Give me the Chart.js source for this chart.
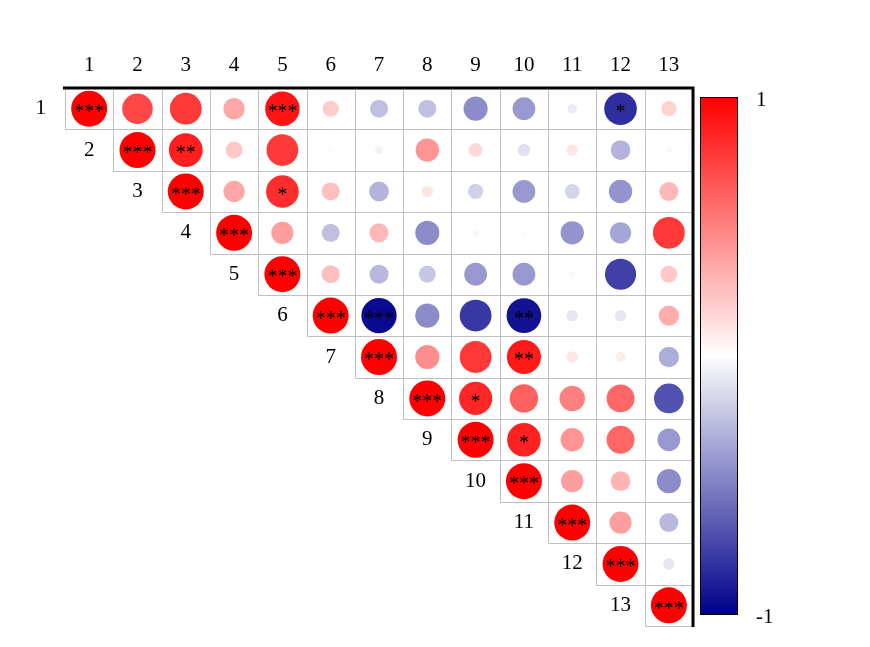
<!DOCTYPE html>
<html>
<head>
<meta charset="utf-8">
<script src="https://cdn.jsdelivr.net/npm/chart.js@4"></script>
<style>
  html, body { margin: 0; padding: 0; background: #fff; }
  #wrap { width: 870px; height: 647px; position: relative; }
</style>
</head>
<body>
<div id="wrap"><canvas id="corr"></canvas></div>
<script>
const vars = ["1","2","3","4","5","6","7","8","9","10","11","12","13"];

// upper triangle, row i holds columns i..13
const corr = [
  [1, 0.72, 0.78, 0.35, 0.92, 0.20, -0.25, -0.25, -0.45, -0.40, -0.07, -0.82, 0.18],
  [1, 0.88, 0.22, 0.78, 0.02, -0.05, 0.42, 0.15, -0.12, 0.10, -0.30, 0.03],
  [1, 0.35, 0.82, 0.25, -0.30, 0.10, -0.18, -0.40, -0.17, -0.42, 0.28],
  [1, 0.38, -0.25, 0.28, -0.45, -0.03, 0.02, -0.42, -0.35, 0.78],
  [1, 0.25, -0.28, -0.22, -0.40, -0.40, 0.03, -0.75, 0.22],
  [1, -0.96, -0.45, -0.78, -0.93, -0.10, -0.10, 0.32],
  [1, 0.45, 0.78, 0.90, 0.10, 0.08, -0.32],
  [1, 0.85, 0.62, 0.50, 0.60, -0.68],
  [1, 0.87, 0.42, 0.60, -0.40],
  [1, 0.38, 0.30, -0.45],
  [1, 0.38, -0.28],
  [1, -0.10],
  [1]
];

const sig = [
  ["***","","","","***","","","","","","","*",""],
  ["***","**","","","","","","","","","",""],
  ["***","","*","","","","","","","",""],
  ["***","","","","","","","","",""],
  ["***","","","","","","","",""],
  ["***","***","","","**","","",""],
  ["***","","","**","","",""],
  ["***","*","","","",""],
  ["***","*","","",""],
  ["***","","",""],
  ["***","",""],
  ["***",""],
  ["***"]
];

const points = [];
corr.forEach((row, i) => {
  row.forEach((v, k) => {
    points.push({ x: i + k + 1, y: i + 1, v: v, s: sig[i][k] });
  });
});

function corrColor(v) {
  // darkblue -> white -> red
  let r, g, b;
  if (v >= 0) {
    r = 255; g = Math.round(255 * (1 - v)); b = Math.round(255 * (1 - v));
  } else {
    const t = -v;
    r = Math.round(255 * (1 - t)); g = Math.round(255 * (1 - t)); b = Math.round(255 - (255 - 139) * t);
  }
  return `rgb(${r},${g},${b})`;
}

const serif = "'Liberation Serif', 'DejaVu Serif', serif";

const decor = {
  id: "decor",
  beforeDatasetsDraw(chart) {
    const { ctx, chartArea: a, scales: { x, y } } = chart;
    const n = vars.length;
    const ex = k => Math.round(x.getPixelForValue(k + 0.5)) + 0.5;
    const ey = k => Math.round(y.getPixelForValue(k + 0.5)) + 0.5;
    ctx.save();
    // cell grid of the upper triangle
    ctx.strokeStyle = "#c0c0c0";
    ctx.lineWidth = 1;
    ctx.beginPath();
    for (let i = 0; i <= n; i++) {
      // horizontal line under row i spans columns i..n
      const xs = ex(Math.max(i - 1, 0));
      ctx.moveTo(i === 0 ? ex(0) : ex(i - 1), ey(i));
      ctx.lineTo(ex(n), ey(i));
      // vertical line left of column i+1 spans rows 0..i+1
      if (i < n) {
        ctx.moveTo(ex(i), ey(0));
        ctx.lineTo(ex(i), ey(i + 1));
      }
    }
    ctx.stroke();
    // heavy top and right border
    ctx.strokeStyle = "#000";
    ctx.lineWidth = 3;
    ctx.beginPath();
    ctx.moveTo(a.left - 2, a.top);
    ctx.lineTo(a.right, a.top);
    ctx.lineTo(a.right, a.bottom + 1);
    ctx.stroke();

    // column labels and diagonal row labels
    ctx.fillStyle = "#000";
    ctx.font = "21px " + serif;
    ctx.textAlign = "center";
    ctx.textBaseline = "middle";
    vars.forEach((lab, i) => {
      ctx.fillText(lab, x.getPixelForValue(i + 1), a.top - 23);
      ctx.fillText(lab, x.getPixelForValue(i), y.getPixelForValue(i + 1));
    });

    // colour bar
    const bx = 700, bw = 37, by = a.top + 9, bh = 517;
    const grad = ctx.createLinearGradient(0, by, 0, by + bh);
    for (let t = 0; t <= 20; t++) {
      grad.addColorStop(t / 20, corrColor(1 - 2 * t / 20));
    }
    ctx.fillStyle = grad;
    ctx.fillRect(bx, by, bw, bh);
    ctx.strokeStyle = "#000";
    ctx.lineWidth = 1;
    ctx.strokeRect(bx + 0.5, by + 0.5, bw, bh);
    ctx.fillStyle = "#000";
    ctx.textAlign = "left";
    ctx.fillText("1", 756, by + 3);
    ctx.fillText("-1", 756, by + bh + 3);
    ctx.restore();
  },
  afterDatasetsDraw(chart) {
    const { ctx, scales: { x, y } } = chart;
    ctx.save();
    ctx.fillStyle = "#000";
    ctx.font = "20px " + serif;
    ctx.textAlign = "center";
    ctx.textBaseline = "middle";
    points.forEach(p => {
      if (p.s) ctx.fillText(p.s, x.getPixelForValue(p.x), y.getPixelForValue(p.y) + 4);
    });
    ctx.restore();
  }
};

new Chart(document.getElementById("corr"), {
  type: "bubble",
  data: {
    datasets: [{
      data: points,
      backgroundColor: c => corrColor(c.raw.v),
      borderWidth: 0,
      radius: c => Math.sqrt(Math.abs(c.raw.v)) * 18,
      hoverRadius: 0
    }]
  },
  options: {
    responsive: true,
    maintainAspectRatio: false,
    animation: false,
    events: [],
    layout: { padding: { left: 65, top: 88, right: 177, bottom: 21 } },
    plugins: { legend: { display: false }, tooltip: { enabled: false } },
    scales: {
      x: { type: "linear", min: 0.5, max: 13.5, display: false },
      y: { type: "linear", min: 0.5, max: 13.5, reverse: true, display: false }
    }
  },
  plugins: [decor]
});
</script>
</body>
</html>
